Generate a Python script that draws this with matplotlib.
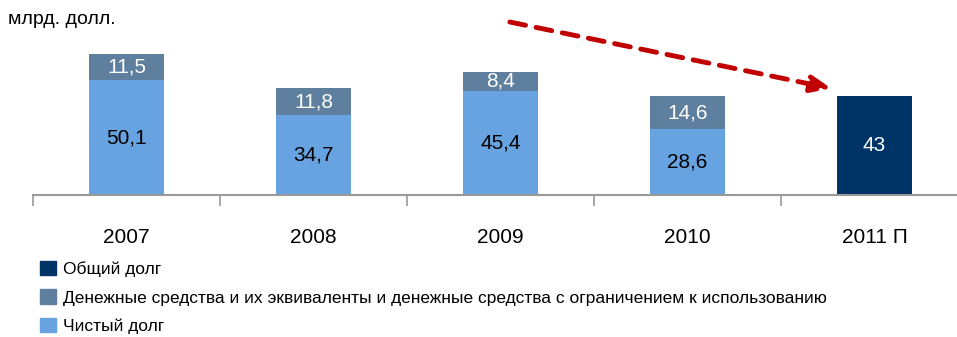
import numpy as np
import matplotlib
matplotlib.use('Agg')
import matplotlib.pyplot as plt
from matplotlib import font_manager
from matplotlib.patches import Patch

names = set(f.name for f in font_manager.fontManager.ttflist)
fam = 'Liberation Sans Narrow' if 'Liberation Sans Narrow' in names else 'Liberation Sans'
plt.rcParams['font.family'] = [fam, 'DejaVu Sans']

years = ['2007', '2008', '2009', '2010', '2011 П']
net_debt = [50.1, 34.7, 45.4, 28.6, 0]
cash = [11.5, 11.8, 8.4, 14.6, 0]
total_debt = [0, 0, 0, 0, 43]
net_lbl = ['50,1', '34,7', '45,4', '28,6', '']
cash_lbl = ['11,5', '11,8', '8,4', '14,6', '']
total_lbl = ['', '', '', '', '43']

c_net = '#66a3e0'
c_cash = '#5f7f9f'
c_total = '#003366'

fig = plt.figure(figsize=(9.57, 3.37), dpi=100)
ax = fig.add_axes([33 / 957, 142 / 337, 935 / 957, 195 / 337])
x = np.arange(len(years))
w = 0.4
ax.bar(x, net_debt, w, color=c_net)
ax.bar(x, cash, w, bottom=net_debt, color=c_cash)
ax.bar(x, total_debt, w, color=c_total)

for i in range(len(years)):
    if net_lbl[i]:
        ax.text(x[i], net_debt[i] / 2, net_lbl[i], ha='center', va='center', fontsize=15, color='black')
    if cash_lbl[i]:
        ax.text(x[i], net_debt[i] + cash[i] / 2, cash_lbl[i], ha='center', va='center', fontsize=15, color='white')
    if total_lbl[i]:
        ax.text(x[i], total_debt[i] / 2, total_lbl[i], ha='center', va='center', fontsize=15, color='white')

ax.set_xlim(-0.5, len(years) - 0.5)
ax.set_ylim(0, 85.1)
for s in ['top', 'right', 'left']:
    ax.spines[s].set_visible(False)
ax.spines['bottom'].set_color('#999999')
ax.spines['bottom'].set_linewidth(1.5)
ax.set_yticks([])
ax.set_xticks(np.arange(len(years) + 1) - 0.5)
ax.set_xticklabels([])
ax.set_xticks(x, minor=True)
ax.set_xticklabels(years, minor=True, fontsize=15)
ax.tick_params(axis='x', which='major', length=8, color='#999999', width=1.2, direction='out')
ax.tick_params(axis='x', which='minor', length=0, pad=24)

# trend arrow
ax.annotate('', xy=(3.77, 46.5), xytext=(2.05, 75.5), annotation_clip=False,
            arrowprops=dict(arrowstyle='-|>,head_length=1.2,head_width=0.5', color='#c00000',
                            lw=3.5, linestyle=(0, (3.3, 2.2)), shrinkA=0, shrinkB=0))

fig.text(8 / 957, 1 - 20 / 337, 'млрд. долл.', fontsize=14, va='center', ha='left')

handles = [Patch(color=c_total), Patch(color=c_cash), Patch(color=c_net)]
labels = ['Общий долг',
          'Денежные средства и их эквиваленты и денежные средства с ограничением к использованию',
          'Чистый долг']
fig.legend(handles, labels, loc='upper left', bbox_to_anchor=(40 / 957, 1 - 261 / 337),
           frameon=False, fontsize=12.5, handlelength=0.9, handleheight=0.9, handletextpad=0.45,
           labelspacing=0.7, borderaxespad=0, borderpad=0)

fig.savefig('out.png', dpi=100)
